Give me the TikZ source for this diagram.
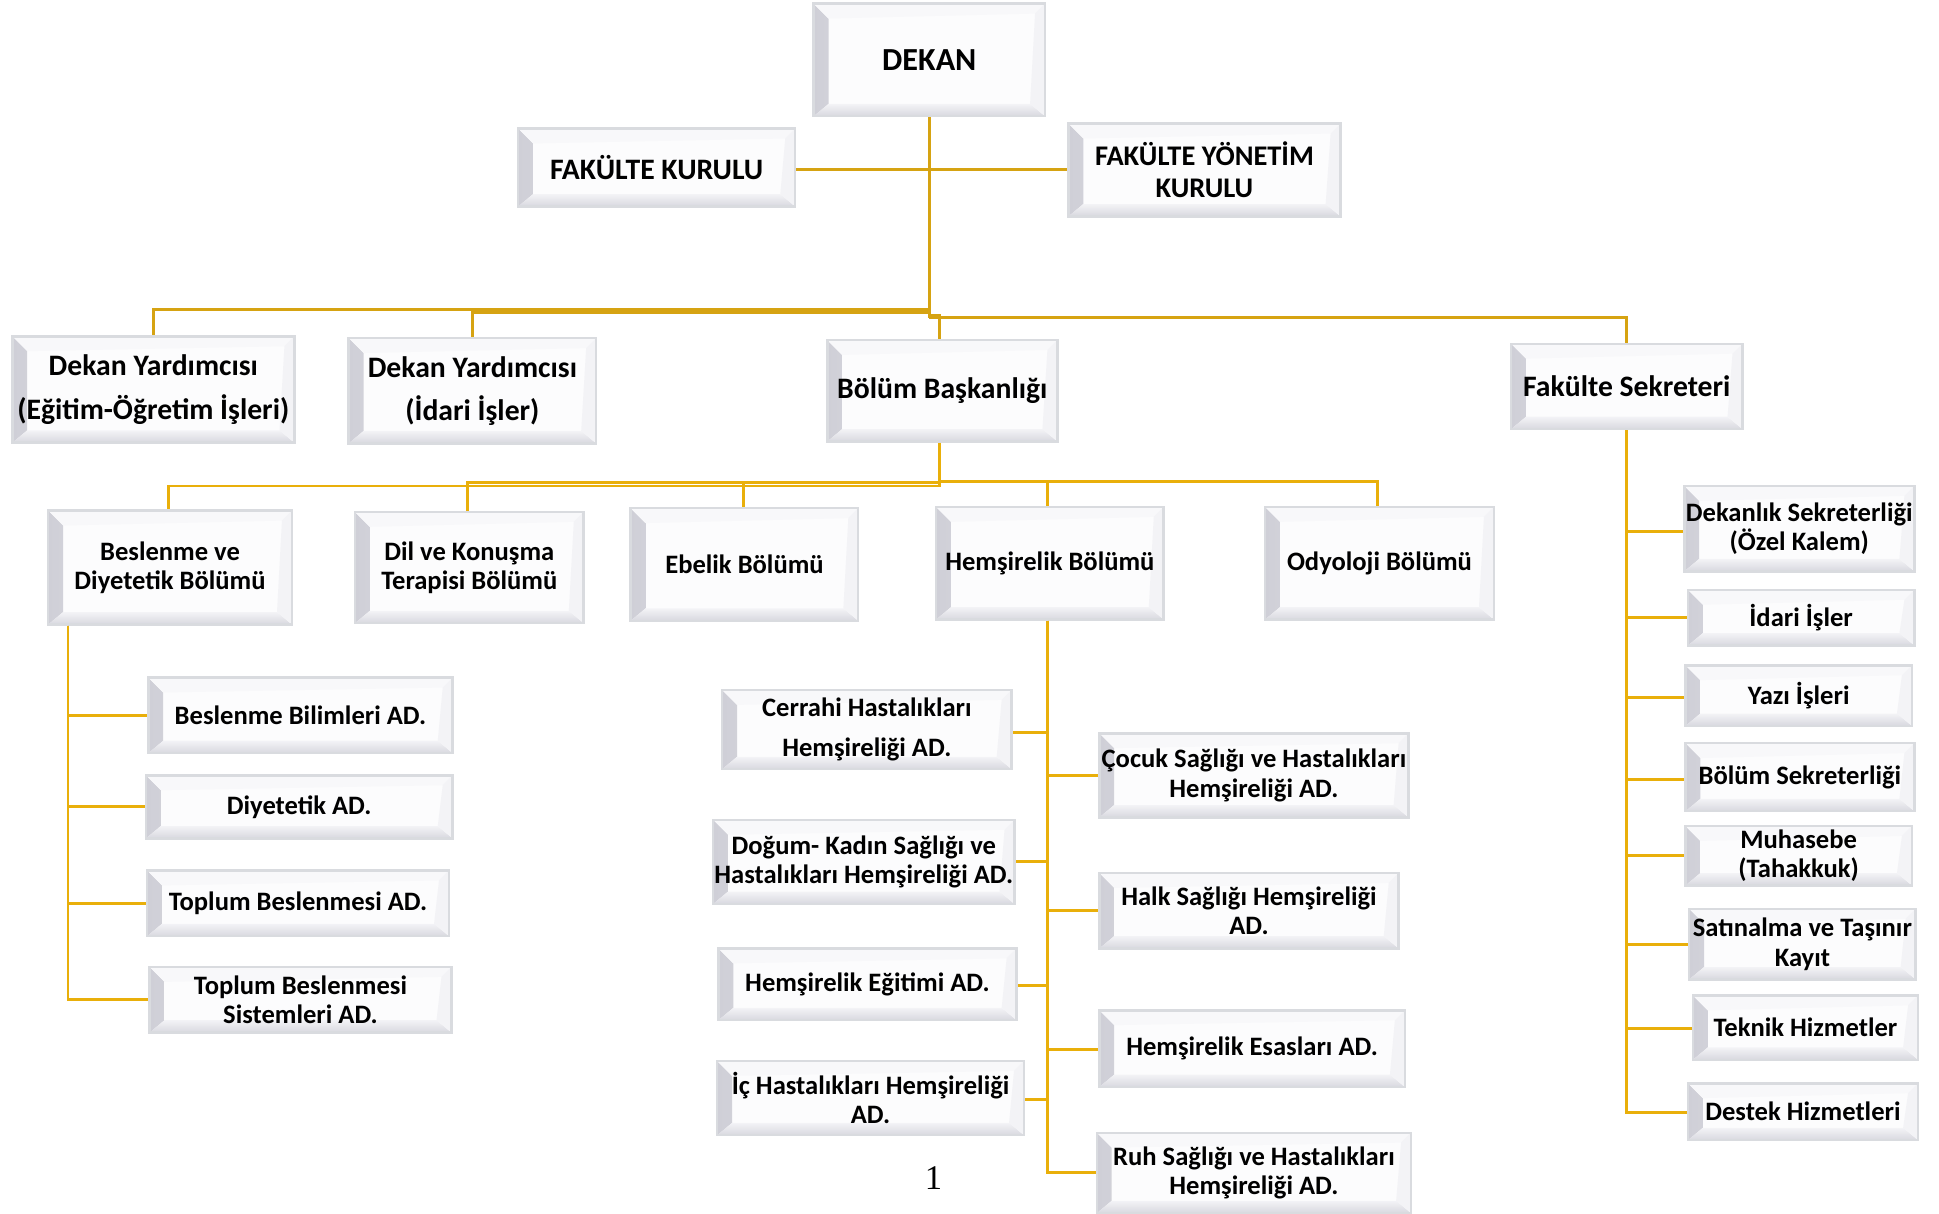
\documentclass[tikz,border=0pt]{standalone}
\usepackage{fontspec}
\setmainfont{Carlito}
\newfontfamily\serifnum{Liberation Serif}
\definecolor{goldA}{HTML}{D6A312}
\definecolor{goldB}{HTML}{E9AF0A}
\definecolor{boxline}{HTML}{D9DBDF}
\definecolor{boxface}{HTML}{FCFCFD}
\definecolor{bevdark}{HTML}{CFCFD7}
\definecolor{bevmid}{HTML}{F3F3F6}
\definecolor{bevbot}{HTML}{D8D8DF}
\definecolor{bevtop}{HTML}{F8F8FA}
\tikzset{
  bevelbox/.style={draw=boxline, line width=2pt, fill=boxface, inner sep=1pt, align=center,
    path picture={
      \shade[left color=bevdark, right color=bevmid]
        (path picture bounding box.south west) -- (path picture bounding box.north west)
        -- ([shift={(12pt,-12pt)}]path picture bounding box.north west)
        -- ([shift={(12pt,10pt)}]path picture bounding box.south west) -- cycle;
      \shade[top color=bevmid, bottom color=bevbot]
        (path picture bounding box.south west) -- (path picture bounding box.south east)
        -- ([shift={(-12pt,10pt)}]path picture bounding box.south east)
        -- ([shift={(12pt,10pt)}]path picture bounding box.south west) -- cycle;
      \fill[bevtop]
        (path picture bounding box.north west) -- (path picture bounding box.north east)
        -- ([shift={(-8pt,-8pt)}]path picture bounding box.north east)
        -- ([shift={(12pt,-12pt)}]path picture bounding box.north west) -- cycle;
      \fill[bevmid]
        (path picture bounding box.north east) -- (path picture bounding box.south east)
        -- ([shift={(-12pt,10pt)}]path picture bounding box.south east)
        -- ([shift={(-8pt,-8pt)}]path picture bounding box.north east) -- cycle;
    }},
  ftop/.style={font=\fontsize{26}{30}\selectfont\bfseries},
  fbig/.style={font=\fontsize{24}{26}\selectfont\bfseries},
  fdy/.style={font=\fontsize{24}{35}\selectfont\bfseries},
  fyk/.style={font=\fontsize{23}{26}\selectfont\bfseries},
  fmid/.style={font=\fontsize{21.5}{24}\selectfont\bfseries},
  fcer/.style={font=\fontsize{21.5}{32}\selectfont\bfseries},
  connA/.style={draw=goldA, line width=2.3pt},
  connB/.style={draw=goldB, line width=2.4pt},
}
\begin{document}
\begin{tikzpicture}[x=1pt,y=-1pt]
\useasboundingbox[fill=white] (0,0) rectangle (1568,981);

% top level
\node[bevelbox, ftop, minimum width=187pt, minimum height=91pt] (dekan) at (751.5,48.5) {DEKAN};
\node[bevelbox, fbig, minimum width=224pt, minimum height=63pt] (fk) at (531,135.5) {FAKÜLTE KURULU};
\node[bevelbox, fyk, minimum width=220pt, minimum height=75pt] (fyk) at (974,137.5) {FAKÜLTE YÖNETİM\\KURULU};

% level 2
\node[bevelbox, fdy, minimum width=228pt, minimum height=86pt] (dy1) at (124,315) {Dekan Yardımcısı\\(Eğitim-Öğretim İşleri)};
\node[bevelbox, fdy, minimum width=200pt, minimum height=85pt] (dy2) at (382,316) {Dekan Yardımcısı\\(İdari İşler)};
\node[bevelbox, fbig, minimum width=186pt, minimum height=82pt] (bb) at (762,316) {Bölüm Başkanlığı};
\node[bevelbox, fbig, minimum width=187pt, minimum height=69pt] (fs) at (1315.5,312.5) {Fakülte Sekreteri};

% level 3 (departments)
\node[bevelbox, fmid, minimum width=197pt, minimum height=92pt] (bdb) at (137.5,459) {Beslenme ve\\Diyetetik Bölümü};
\node[bevelbox, fmid, minimum width=185pt, minimum height=90pt] (dkt) at (379.5,459) {Dil ve Konuşma\\Terapisi Bölümü};
\node[bevelbox, fmid, minimum width=184pt, minimum height=91pt] (eb) at (602,456.5) {Ebelik Bölümü};
\node[bevelbox, fmid, minimum width=184pt, minimum height=91pt] (hb) at (849,455.5) {Hemşirelik Bölümü};
\node[bevelbox, fmid, minimum width=185pt, minimum height=91pt] (ob) at (1115.5,455.5) {Odyoloji Bölümü};

% Beslenme sub
\node[bevelbox, fmid, minimum width=246pt, minimum height=61pt] (bbil) at (243,578.5) {Beslenme Bilimleri AD.};
\node[bevelbox, fmid, minimum width=248pt, minimum height=51pt] (diy) at (242,652.5) {Diyetetik AD.};
\node[bevelbox, fmid, minimum width=244pt, minimum height=53pt] (tb) at (241,730.5) {Toplum Beslenmesi AD.};
\node[bevelbox, fmid, minimum width=244pt, minimum height=53pt] (tbs) at (243,808.5) {Toplum Beslenmesi\\Sistemleri AD.};

% Hemşirelik sub, left
\node[bevelbox, fcer, minimum width=234pt, minimum height=64pt] (cer) at (701,590) {Cerrahi Hastalıkları\\Hemşireliği AD.};
\node[bevelbox, fmid, minimum width=243pt, minimum height=68pt] (dog) at (698.5,697) {Doğum- Kadın Sağlığı ve\\Hastalıkları Hemşireliği AD.};
\node[bevelbox, fmid, minimum width=241pt, minimum height=58pt] (he) at (701.5,796) {Hemşirelik Eğitimi AD.};
\node[bevelbox, fmid, minimum width=248pt, minimum height=60pt] (ic) at (704,888) {İç Hastalıkları Hemşireliği\\AD.};
% Hemşirelik sub, right
\node[bevelbox, fmid, minimum width=250pt, minimum height=68pt] (coc) at (1014,627) {Çocuk Sağlığı ve Hastalıkları\\Hemşireliği AD.};
\node[bevelbox, fmid, minimum width=242pt, minimum height=61pt] (halk) at (1010,736.5) {Halk Sağlığı Hemşireliği\\AD.};
\node[bevelbox, fmid, minimum width=247pt, minimum height=62pt] (esas) at (1012.5,848) {Hemşirelik Esasları AD.};
\node[bevelbox, fmid, minimum width=254pt, minimum height=65pt] (ruh) at (1014,948.5) {Ruh Sağlığı ve Hastalıkları\\Hemşireliği AD.};

% Fakülte Sekreteri sub
\node[bevelbox, fmid, minimum width=186pt, minimum height=69pt] (ds) at (1455,427.5) {Dekanlık Sekreterliği\\(Özel Kalem)};
\node[bevelbox, fmid, minimum width=183pt, minimum height=45pt] (idari) at (1456.5,499.5) {İdari İşler};
\node[bevelbox, fmid, minimum width=183pt, minimum height=49pt] (yazi) at (1454.5,562.5) {Yazı İşleri};
\node[bevelbox, fmid, minimum width=185pt, minimum height=55pt] (bs) at (1455.5,628.5) {Bölüm Sekreterliği};
\node[bevelbox, fmid, minimum width=183pt, minimum height=48pt] (muh) at (1454.5,692) {Muhasebe\\(Tahakkuk)};
\node[bevelbox, fmid, minimum width=183pt, minimum height=57pt] (sat) at (1457.5,763.5) {Satınalma ve Taşınır\\Kayıt};
\node[bevelbox, fmid, minimum width=182pt, minimum height=52pt] (tek) at (1460,831) {Teknik Hizmetler};
\node[bevelbox, fmid, minimum width=186pt, minimum height=46pt] (des) at (1458,899) {Destek Hizmetleri};

\node[font=\serifnum\fontsize{28}{30}\selectfont] (pg) at (755,953) {1};

% connectors: top
\draw[connA] (dekan.south) -- (dekan.south |- 0,257);
\draw[connA] (fk.east |- 0,137) -- (fyk.west |- 0,137);
\draw[connA] (dekan.south |- 0,250) -| (dy1.north);
\draw[connA] (dekan.south |- 0,253) -| (dy2.north);
\draw[connA] (dekan.south |- 0,255) -| ([xshift=-2pt]bb.north);
\draw[connA] (dekan.south |- 0,257) -| (fs.north);

% connectors: departments
\draw[connB] ([xshift=-2pt]bb.south) -- ([xshift=-2pt]bb.south |- 0,393) -| ([xshift=-1.5pt]bdb.north);
\draw[connB] ([xshift=-2pt]bb.south |- 0,390.5) -| ([xshift=-1.5pt]dkt.north);
\draw[connB] ([xshift=-2pt]bb.south |- 0,390.5) -| ([xshift=-1pt]eb.north);
\draw[connB] ([xshift=-2pt]bb.south |- 0,389) -| ([xshift=-2pt]hb.north);
\draw[connB] ([xshift=-2pt]bb.south |- 0,389) -| ([xshift=-1.5pt]ob.north);

% Beslenme sub
\draw[connB] ([xshift=17pt]bdb.south west) |- (bbil.west);
\draw[connB] ([xshift=17pt]bdb.south west) |- (diy.west);
\draw[connB] ([xshift=17pt]bdb.south west) |- (tb.west);
\draw[connB] ([xshift=17pt]bdb.south west) |- (tbs.west);

% Hemşirelik sub
\draw[connB] ([xshift=-2pt]hb.south) |- ([yshift=-2pt]cer.east);
\draw[connB] ([xshift=-2pt]hb.south) |- (dog.east);
\draw[connB] ([xshift=-2pt]hb.south) |- ([yshift=-1pt]he.east);
\draw[connB] ([xshift=-2pt]hb.south) |- ([yshift=-1pt]ic.east);
\draw[connB] ([xshift=-2pt]hb.south) |- (coc.west);
\draw[connB] ([xshift=-2pt]hb.south) |- (halk.west);
\draw[connB] ([xshift=-2pt]hb.south) |- ([yshift=-1pt]esas.west);
\draw[connB] ([xshift=-2pt]hb.south) |- (ruh.west);

% Fakülte Sekreteri sub
\draw[connB] (fs.south) |- ([yshift=-2.5pt]ds.west);
\draw[connB] (fs.south) |- (idari.west);
\draw[connB] (fs.south) |- ([yshift=-1.5pt]yazi.west);
\draw[connB] (fs.south) |- ([yshift=-1.5pt]bs.west);
\draw[connB] (fs.south) |- (muh.west);
\draw[connB] (fs.south) |- (sat.west);
\draw[connB] (fs.south) |- ([yshift=-1pt]tek.west);
\draw[connB] (fs.south) |- ([yshift=-1pt]des.west);
\end{tikzpicture}
\end{document}
